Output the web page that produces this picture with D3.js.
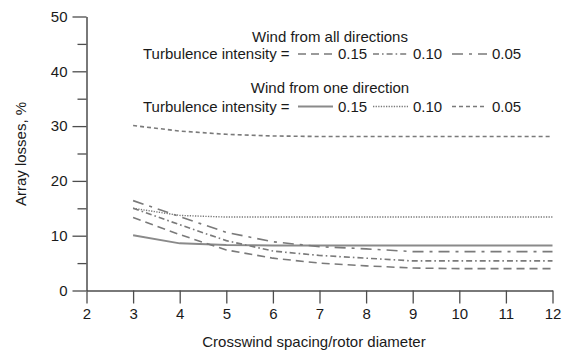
<!DOCTYPE html>
<html>
<head>
<meta charset="utf-8">
<script src="https://cdn.jsdelivr.net/npm/d3@7"></script>
<style>
  html, body { margin: 0; padding: 0; background: #fff; }
  svg { display: block; }
  text { font-family: "Liberation Sans", Arial, Helvetica, sans-serif; fill: #1a1a1a; }
</style>
</head>
<body>
<svg id="chart" width="562" height="354"></svg>
<script>
// Crosswind spacing (rotor diameters)
const spacing = [3, 4, 5, 6, 7, 8, 9, 10, 11, 12];

// Wind from all directions, by turbulence intensity
const allDir015 = [13.3, 10.2, 7.4, 5.9, 5.0, 4.5, 4.1, 4.0, 4.0, 4.0];
const allDir010 = [15.0, 12.0, 9.1, 7.2, 6.4, 5.9, 5.4, 5.4, 5.4, 5.4];
const allDir005 = [16.4, 13.5, 10.6, 8.9, 8.0, 7.6, 7.1, 7.1, 7.1, 7.1];

// Wind from one direction, by turbulence intensity
const oneDir015 = [10.1, 8.6, 8.3, 8.2, 8.2, 8.2, 8.2, 8.2, 8.2, 8.2];
const oneDir010 = [15.0, 13.7, 13.4, 13.4, 13.4, 13.4, 13.4, 13.4, 13.4, 13.4];
const oneDir005 = [30.1, 29.1, 28.5, 28.2, 28.1, 28.1, 28.1, 28.1, 28.1, 28.1];

const xTicks = [2, 3, 4, 5, 6, 7, 8, 9, 10, 11, 12];
const yTicks = [0, 10, 20, 30, 40, 50];
const yMinorTicks = [5, 15, 25, 35, 45];
const intensityLabels = ["0.15", "0.10", "0.05"];

const svg = d3.select("#chart");
const x = d3.scaleLinear().domain([2, 12]).range([86.5, 552.5]);
const y = d3.scaleLinear().domain([0, 50]).range([290.5, 16.5]);

const axisColor = "#4d4d4d";
const lineColor = "#7a7a7a";

// Line styles per series
const styles = {
  all015: { dash: "8,5", width: 1.6, color: lineColor },
  all010: { dash: "6,3,1.6,3", width: 1.6, color: lineColor },
  all005: { dash: "11,6,3,6", width: 1.6, color: lineColor },
  one015: { dash: null, width: 2, color: "#8a8a8a" },
  one010: { dash: "1.3,1.3", width: 1.4, color: lineColor },
  one005: { dash: "4,3", width: 1.6, color: lineColor }
};

const series = [
  { values: oneDir005, style: styles.one005 },
  { values: oneDir010, style: styles.one010 },
  { values: oneDir015, style: styles.one015 },
  { values: allDir005, style: styles.all005 },
  { values: allDir010, style: styles.all010 },
  { values: allDir015, style: styles.all015 }
];

// X axis
const xAxis = d3.axisBottom(x).tickValues(xTicks).tickFormat(d3.format("d"))
  .tickSize(13).tickSizeOuter(0).tickPadding(5);
const gx = svg.append("g").attr("transform", `translate(0,${y(0)})`).call(xAxis);
gx.select(".domain").attr("stroke", axisColor).attr("stroke-width", 1.5);
gx.selectAll(".tick line").attr("stroke", axisColor).attr("stroke-width", 1.3);
gx.selectAll(".tick text").attr("font-size", 15).attr("font-family", "Liberation Sans, Arial, sans-serif").attr("fill", "#1a1a1a");

// Y axis
const yAxis = d3.axisLeft(y).tickValues(yTicks).tickFormat(d3.format("d"))
  .tickSize(14).tickSizeOuter(0).tickPadding(5);
const gy = svg.append("g").attr("transform", `translate(${x(2)},0)`).call(yAxis);
gy.select(".domain").attr("stroke", axisColor).attr("stroke-width", 1.5);
gy.selectAll(".tick line").attr("stroke", axisColor).attr("stroke-width", 1.3);
gy.selectAll(".tick text").attr("font-size", 15).attr("font-family", "Liberation Sans, Arial, sans-serif").attr("fill", "#1a1a1a");

// Minor y ticks
const yMinor = d3.axisLeft(y).tickValues(yMinorTicks).tickFormat("").tickSize(9).tickSizeOuter(0);
const gym = svg.append("g").attr("transform", `translate(${x(2)},0)`).call(yMinor);
gym.select(".domain").remove();
gym.selectAll(".tick line").attr("stroke", axisColor).attr("stroke-width", 1.3);

// Axis titles
svg.append("text")
  .attr("x", 314).attr("y", 347)
  .attr("text-anchor", "middle").attr("font-size", 15)
  .text("Crosswind spacing/rotor diameter");

svg.append("text")
  .attr("transform", `translate(26,154) rotate(-90)`)
  .attr("text-anchor", "middle").attr("font-size", 15)
  .text("Array losses, %");

// Data lines
const line = d3.line().x((d, i) => x(spacing[i])).y(d => y(d));
svg.append("g").selectAll("path").data(series).join("path")
  .attr("d", s => line(s.values))
  .attr("fill", "none")
  .attr("stroke", s => s.style.color)
  .attr("stroke-width", s => s.style.width)
  .attr("stroke-dasharray", s => s.style.dash);

// Legend
const legend = svg.append("g");
function legendBlock(title, titleY, rowY, rowStyles) {
  legend.append("text").attr("x", 330).attr("y", titleY)
    .attr("text-anchor", "middle").attr("font-size", 15).text(title);
  legend.append("text").attr("x", 143).attr("y", rowY)
    .attr("font-size", 15).text("Turbulence intensity =");
  const sampleX = [298, 373, 452];
  const labelX = [338, 413, 492];
  rowStyles.forEach((st, i) => {
    legend.append("line")
      .attr("x1", sampleX[i]).attr("x2", sampleX[i] + 35)
      .attr("y1", rowY - 5).attr("y2", rowY - 5)
      .attr("stroke", st.color).attr("stroke-width", st.width)
      .attr("stroke-dasharray", st.dash);
    legend.append("text").attr("x", labelX[i]).attr("y", rowY)
      .attr("font-size", 15).text(intensityLabels[i]);
  });
}
legendBlock("Wind from all directions", 41.5, 59, [styles.all015, styles.all010, styles.all005]);
legendBlock("Wind from one direction", 93, 111.5, [styles.one015, styles.one010, styles.one005]);
</script>
</body>
</html>
